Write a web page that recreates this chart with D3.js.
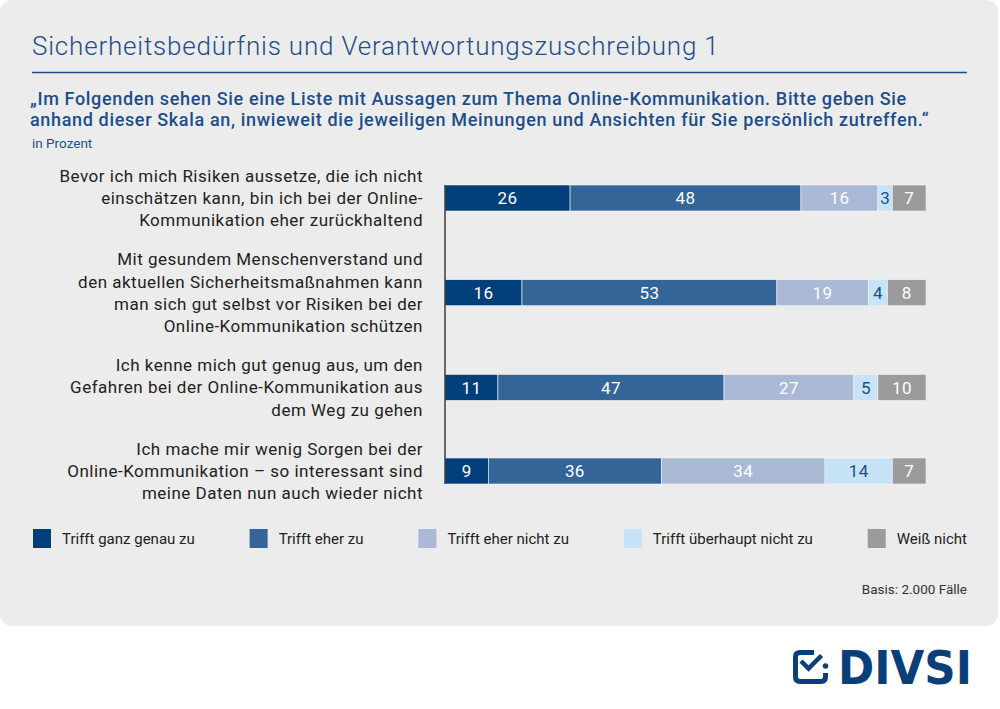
<!DOCTYPE html>
<html>
<head>
<meta charset="utf-8">
<script src="https://cdn.jsdelivr.net/npm/d3@7"></script>
<style>
  html, body { margin: 0; padding: 0; background: #ffffff; }
  svg { display: block; font-family: Roboto, "Noto Sans", sans-serif; }
</style>
</head>
<body>
<svg id="chart" width="1000" height="709"></svg>
<script>
// Data
const statements = [
    ["Bevor ich mich Risiken aussetze, die ich nicht", "einschätzen kann, bin ich bei der Online-", "Kommunikation eher zurückhaltend"],
    ["Mit gesundem Menschenverstand und", "den aktuellen Sicherheitsmaßnahmen kann", "man sich gut selbst vor Risiken bei der", "Online-Kommunikation schützen"],
    ["Ich kenne mich gut genug aus, um den", "Gefahren bei der Online-Kommunikation aus", "dem Weg zu gehen"],
    ["Ich mache mir wenig Sorgen bei der", "Online-Kommunikation – so interessant sind", "meine Daten nun auch wieder nicht"]
];
const answers = ["Trifft ganz genau zu", "Trifft eher zu", "Trifft eher nicht zu", "Trifft überhaupt nicht zu", "Weiß nicht"];
const genau = [26, 16, 11, 9];
const eher = [48, 53, 47, 36];
const eherNicht = [16, 19, 27, 34];
const ueberhauptNicht = [3, 4, 5, 14];
const weissNicht = [7, 8, 10, 7];

const title = "Sicherheitsbedürfnis und Verantwortungszuschreibung 1";
const question = [
    "„Im Folgenden sehen Sie eine Liste mit Aussagen zum Thema Online-Kommunikation. Bitte geben Sie",
    "anhand dieser Skala an, inwieweit die jeweiligen Meinungen und Ansichten für Sie persönlich zutreffen.“"
];
const unit = "in Prozent";
const basis = "Basis: 2.000 Fälle";

const colors = ["#003f7a", "#346598", "#aab9d6", "#c6e3f7", "#9b9b9b"];
const valueColors = ["#ffffff", "#ffffff", "#ffffff", "#1d4e89", "#ffffff"];
const blue = "#1d4e89";

const svg = d3.select("#chart");

// Card background
svg.append("rect")
    .attr("x", 0).attr("y", 0)
    .attr("width", 998).attr("height", 626)
    .attr("rx", 12)
    .attr("fill", "#ececec");

// Header
svg.append("text")
    .attr("x", 32).attr("y", 55)
    .attr("font-size", 26).attr("font-weight", 300)
    .attr("letter-spacing", 0.8)
    .attr("fill", blue)
    .text(title);

svg.append("line")
    .attr("x1", 32).attr("x2", 967)
    .attr("y1", 72.5).attr("y2", 72.5)
    .attr("stroke", blue).attr("stroke-width", 1.5);

svg.append("g").selectAll("text")
    .data(question)
    .join("text")
    .attr("x", 30)
    .attr("y", (d, i) => 105 + i * 20.5)
    .attr("font-size", 18).attr("font-weight", 500)
    .attr("letter-spacing", 0.65)
    .attr("fill", blue)
    .text(d => d);

svg.append("text")
    .attr("x", 32).attr("y", 148)
    .attr("font-size", 13.5)
    .attr("fill", blue)
    .text(unit);

// Vertical layout: each text line is one unit, gap between statements
const gapUnits = 0.75;
const centers = [];
let cursor = 0;
statements.forEach((lines, i) => {
    centers.push(cursor + lines.length / 2);
    cursor += lines.length + gapUnits;
});
const y = d3.scaleLinear()
    .domain([centers[0], centers[centers.length - 1]])
    .range([198, 471]);
const lineHeight = y(1) - y(0);

const x = d3.scaleLinear().domain([0, 100]).range([445, 926]);
const barHeight = 26;

const rows = statements.map((lines, i) => {
    const values = [genau[i], eher[i], eherNicht[i], ueberhauptNicht[i], weissNicht[i]];
    let start = 0;
    const segs = values.map((v, k) => {
        const s = {k: k, v: v, x0: start, x1: start + v};
        start += v;
        return s;
    });
    return {lines: lines, center: y(centers[i]), segs: segs};
});

// Statement labels
const labelG = svg.append("g");
rows.forEach(r => {
    labelG.append("g").selectAll("text")
        .data(r.lines)
        .join("text")
        .attr("x", 423)
        .attr("y", (d, j) => r.center + (j - (r.lines.length - 1) / 2) * lineHeight + 6)
        .attr("text-anchor", "end")
        .attr("font-size", 17)
        .attr("letter-spacing", 0.5)
        .attr("fill", "#222")
        .text(d => d);
});

// Bars
const rowG = svg.append("g").selectAll("g")
    .data(rows)
    .join("g");

rowG.selectAll("rect")
    .data(r => r.segs.map(s => Object.assign({cy: r.center}, s)))
    .join("rect")
    .attr("x", d => x(d.x0))
    .attr("width", d => x(d.x1) - x(d.x0))
    .attr("y", d => d.cy - barHeight / 2)
    .attr("height", barHeight)
    .attr("fill", d => colors[d.k])
    .attr("stroke", "#f4f4f4")
    .attr("stroke-width", 0.6);

rowG.selectAll("text")
    .data(r => r.segs.map(s => Object.assign({cy: r.center}, s)))
    .join("text")
    .attr("x", d => (x(d.x0) + x(d.x1)) / 2)
    .attr("y", d => d.cy)
    .attr("dy", "0.36em")
    .attr("text-anchor", "middle")
    .attr("font-size", 17)
    .attr("letter-spacing", 0.4)
    .attr("fill", d => valueColors[d.k])
    .text(d => d.v);

// Axis line
svg.append("line")
    .attr("x1", x(0)).attr("x2", x(0))
    .attr("y1", rows[0].center - barHeight / 2)
    .attr("y2", rows[rows.length - 1].center + barHeight / 2)
    .attr("stroke", "#222").attr("stroke-width", 1.3);

// Legend, spread between the left and right margin
const legendG = svg.append("g");
const items = answers.map((a, k) => {
    const g = legendG.append("g");
    g.append("rect")
        .attr("width", 18).attr("height", 19)
        .attr("y", 529)
        .attr("fill", colors[k]);
    const t = g.append("text")
        .attr("x", 29).attr("y", 544)
        .attr("font-size", 15)
        .attr("fill", "#222")
        .text(a);
    return {g: g, w: 29 + t.node().getComputedTextLength()};
});
const legendLeft = 33, legendRight = 967;
const totalW = d3.sum(items, d => d.w);
const spacing = (legendRight - legendLeft - totalW) / (items.length - 1);
let lx = legendLeft;
items.forEach(it => {
    it.g.attr("transform", `translate(${lx},0)`);
    lx += it.w + spacing;
});

svg.append("text")
    .attr("x", 967).attr("y", 594)
    .attr("text-anchor", "end")
    .attr("font-size", 13.5)
    .attr("fill", "#333")
    .text(basis);

// Logo
const logo = svg.append("g").attr("fill", "none").attr("stroke", "#0a3f7a");
logo.append("path")
    .attr("d", "M814 652.5 H800 Q795.5 652.5 795.5 657 V677 Q795.5 681.5 800 681.5 H821 Q825.5 681.5 825.5 677 V673")
    .attr("stroke-width", 5);
logo.append("path")
    .attr("d", "M801 661 L808.5 668.5 L821.5 655.5")
    .attr("stroke-width", 4.5);
logo.append("circle")
    .attr("cx", 825.5).attr("cy", 666)
    .attr("r", 2.8)
    .attr("fill", "#0a3f7a").attr("stroke", "none");
svg.append("text")
    .attr("x", 838).attr("y", 684)
    .attr("font-family", "'DejaVu Sans', sans-serif")
    .attr("font-weight", "bold")
    .attr("font-size", 46)
    .attr("textLength", 134)
    .attr("lengthAdjust", "spacingAndGlyphs")
    .attr("fill", "#0a3f7a")
    .text("DIVSI");
</script>
</body>
</html>
